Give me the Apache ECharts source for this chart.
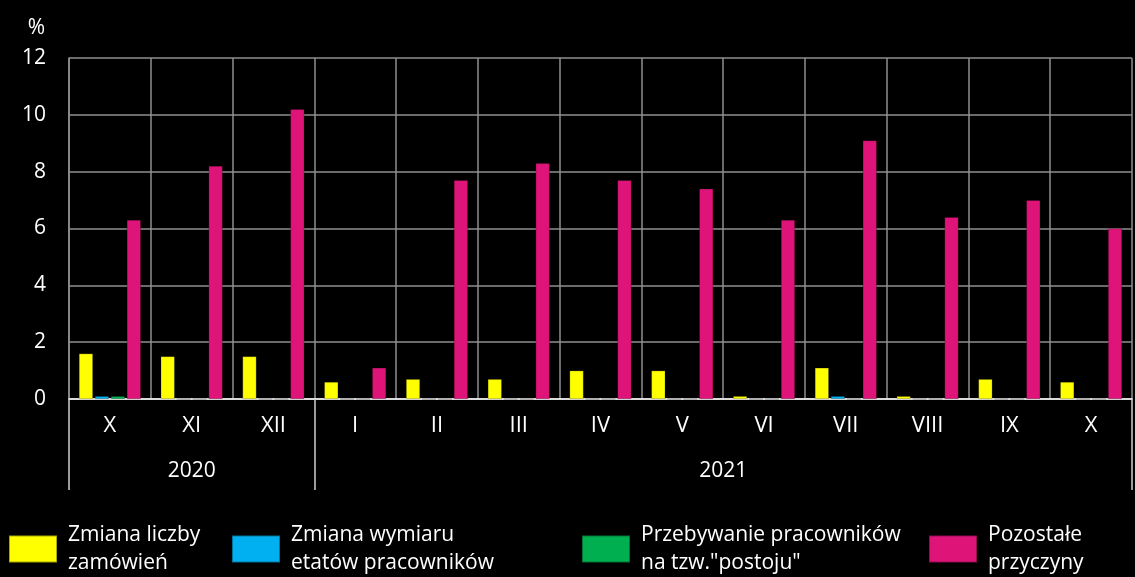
<!DOCTYPE html>
<html>
<head>
<meta charset="utf-8">
<script src="https://cdn.jsdelivr.net/npm/echarts@6/dist/echarts.min.js"></script>
<style>
  html, body { margin: 0; padding: 0; background: #000; }
  #main { width: 1135px; height: 577px; }
</style>
</head>
<body>
<div id="main"></div>
<script>
var months = ['X', 'XI', 'XII', 'I', 'II', 'III', 'IV', 'V', 'VI', 'VII', 'VIII', 'IX', 'X'];
var years = ['2020', '2021'];
var yearSpans = [3, 10];
var seriesNames = ['Zmiana liczby\nzamówień', 'Zmiana wymiaru\netatów pracowników', 'Przebywanie pracowników\nna tzw."postoju"', 'Pozostałe\nprzyczyny'];
var zamowienia = [1.6, 1.5, 1.5, 0.6, 0.7, 0.7, 1.0, 1.0, 0.1, 1.1, 0.1, 0.7, 0.6];
var wymiar = [0.1, 0, 0, 0, 0, 0, 0, 0, 0, 0.1, 0, 0, 0];
var postoj = [0.1, 0, 0, 0, 0, 0, 0, 0, 0, 0, 0, 0, 0];
var pozostale = [6.3, 8.2, 10.2, 1.1, 7.7, 8.3, 7.7, 7.4, 6.3, 9.1, 6.4, 7.0, 6.0];
var colors = ['#FFFF00', '#00B0F0', '#00B050', '#DE1479'];

// pozycje etykiet lat i linii podziału
var yearCenters = [], yearBounds = [0], acc = 0;
for (var i = 0; i < yearSpans.length; i++) {
    yearCenters.push(acc + yearSpans[i] / 2);
    acc += yearSpans[i];
    yearBounds.push(acc);
}

var font = 'Open Sans';
var gridColor = '#8f8f8f';

var legendLeft = [8, 231, 581, 928];
var legends = [];
for (var i = 0; i < seriesNames.length; i++) {
    legends.push({
        data: [seriesNames[i]],
        left: legendLeft[i],
        top: 521,
        padding: 0,
        icon: 'rect',
        itemWidth: 48,
        itemHeight: 27,
        textStyle: {
            color: '#fff',
            fontSize: 21,
            fontFamily: font,
            lineHeight: 28,
            padding: [0, 0, 0, 6]
        }
    });
}

var data = [zamowienia, wymiar, postoj, pozostale];
var series = [];
for (var i = 0; i < data.length; i++) {
    series.push({
        name: seriesNames[i],
        type: 'bar',
        data: data[i],
        barWidth: 14,
        barGap: '14%',
        itemStyle: { color: colors[i], borderColor: 'rgba(0,0,0,0.35)', borderWidth: 0.6 }
    });
}

var myChart = echarts.init(document.getElementById('main'));
var option = {
    backgroundColor: '#000',
    animation: false,
    color: colors,
    legend: legends,
    grid: { left: 69, right: 3, top: 58, bottom: 178, containLabel: false },
    xAxis: [{
        type: 'category',
        data: months,
        axisLine: { show: true, lineStyle: { color: '#fff', width: 1.5 } },
        axisTick: { show: false },
        axisLabel: { color: '#fff', fontSize: 22, fontFamily: font, margin: 16 },
        splitLine: { show: true, lineStyle: { color: gridColor, width: 1.5 } }
    }, {
        type: 'value',
        min: 0,
        max: acc,
        position: 'bottom',
        axisLine: { show: false },
        splitLine: { show: false },
        axisTick: {
            show: true,
            customValues: yearBounds,
            length: 91,
            lineStyle: { color: '#cfcfcf', width: 1.5 }
        },
        axisLabel: {
            show: true,
            customValues: yearCenters,
            color: '#fff',
            fontSize: 21,
            fontFamily: font,
            margin: 62,
            formatter: function (v) {
                for (var k = 0; k < yearCenters.length; k++) {
                    if (Math.abs(yearCenters[k] - v) < 1e-6) return years[k];
                }
                return '';
            }
        }
    }],
    yAxis: {
        type: 'value',
        min: 0,
        max: 12,
        interval: 2,
        name: '%',
        nameLocation: 'end',
        nameGap: 19,
        nameTextStyle: { color: '#fff', fontSize: 21, fontFamily: font, align: 'right', padding: [0, 24, 0, 0] },
        axisLine: { show: true, lineStyle: { color: gridColor, width: 1.5 } },
        axisTick: { show: false },
        axisLabel: { color: '#fff', fontSize: 21, fontFamily: font, margin: 23 },
        splitLine: { show: true, lineStyle: { color: gridColor, width: 1.5 } }
    },
    series: series
};
myChart.setOption(option);
</script>
</body>
</html>
